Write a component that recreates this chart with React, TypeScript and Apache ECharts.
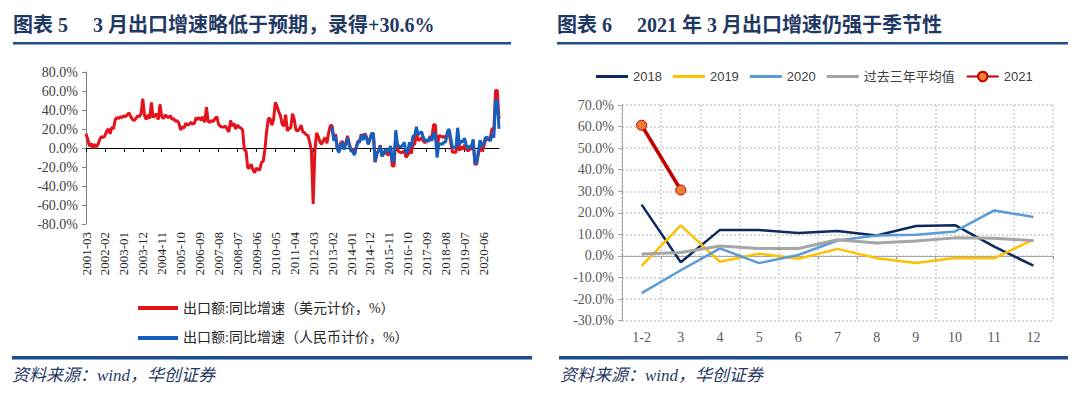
import React, { useEffect, useRef } from "react";
import * as echarts from "echarts";

// ---------- Left chart data (monthly, 2001-03 .. 2021-03) ----------
const usd2001 = [15, 9, 2, 5, 0, 4, 1, 4, 9, 12];
const usd2002 = [11, 13, 18, 20, 15, 22, 20, 30, 32, 31, 33, 32];
const usd2003 = [34, 33, 35, 37, 33, 30, 29, 31, 34, 33, 36, 52];
const usd2004 = [34, 30, 35, 31, 48, 32, 34, 36, 30, 46, 33, 31];
const usd2005 = [35, 33, 32, 34, 30, 31, 28, 29, 26, 19, 22, 21];
const usd2006 = [26, 24, 25, 27, 25, 26, 32, 30, 32, 29, 33, 27];
const usd2007 = [43, 28, 27, 29, 28, 31, 33, 25, 23, 22, 22, 23];
const usd2008 = [20, 17, 29, 23, 26, 20, 24, 22, 21, 19, -2, -3];
const usd2009 = [-21, -21, -17, -23, -26, -21, -23, -23, -15, -14, -1, 18];
const usd2010 = [31, 31, 24, 30, 48, 44, 38, 34, 25, 23, 35, 18];
const usd2011 = [21, 21, 36, 30, 19, 18, 20, 24, 17, 16, 14, 13];
const usd2012 = [6, -3, -59, -3, 16, 12, 6, 4, 8, 11, 5, 16];
const usd2013 = [23.6, 23.6, 10.0, 14.7, 1.0, -3.1, 5.1, 7.2, -0.3, 5.6, 12.7, 4.3];
const usd2014 = [-1.6, -1.6, -6.6, 0.9, 7.0, 7.2, 14.5, 9.4, 15.3, 11.6, 4.7, 9.7];
const usd2015 = [15.0, 15.0, -15.0, -6.4, -2.5, 2.8, -8.3, -5.5, -3.7, -6.9, -6.8, -1.4];
const usd2016 = [-19, -19, 11.5, -1.8, -4.1, -4.8, -4.4, -2.8, -10.0, -7.3, 0.1, -6.1];
const usd2017 = [4.0, 4.0, 16.4, 8.0, 8.7, 11.3, 7.2, 5.5, 8.1, 6.9, 12.3, 10.9];
const usd2018 = [24.4, 24.4, -2.7, 12.9, 12.6, 11.3, 12.2, 9.8, 14.5, 15.6, 5.4, -4.4];
const usd2019 = [-4.6, -4.6, 14.2, -2.7, 1.1, -1.3, 3.3, -1.0, -3.2, -0.9, -1.1, 7.6];
const usd2020 = [-17.2, -17.2, -6.6, 3.5, -3.3, 0.5, 7.2, 9.5, 9.9, 11.4, 21.1, 18.1];
const usd2021 = [60.6, 60.6, 30.6];

const rmb2013 = [21.0, 21.0, 7.6, 12.7, -1.1, -4.9, 3.1, 5.7, -1.6, 3.8, 10.8, 2.6];
const rmb2014 = [-3.3, -3.3, -7.5, 0.0, 6.0, 6.2, 13.5, 8.4, 14.3, 10.6, 3.8, 8.8];
const rmb2015 = [15.3, 15.3, -14.6, -6.2, -2.8, 2.1, -8.9, -6.1, -1.1, -3.6, -3.7, 2.3];
const rmb2016 = [-14, -14, 18.7, 4.1, 1.2, 1.3, 2.9, 5.9, -5.6, -3.2, 5.9, 0.6];
const rmb2017 = [12.6, 12.6, 22.3, 14.3, 15.5, 17.3, 11.2, 6.9, 9.0, 7.1, 11.5, 7.4];
const rmb2018 = [15.3, 15.3, -10.0, 4.3, 4.4, 3.8, 6.0, 6.3, 17.0, 20.1, 10.1, 0.2];
const rmb2019 = [0.4, 0.4, 21.3, 3.1, 7.7, 6.1, 10.3, 2.6, -0.7, 1.9, 1.3, 9.0];
const rmb2020 = [-15.9, -15.9, -3.5, 8.2, 1.4, 4.3, 10.4, 11.6, 8.7, 7.6, 14.9, 10.9];
const rmb2021 = [50.1, 50.1, 20.2];

const usdSeries: number[] = [
  ...usd2001, ...usd2002, ...usd2003, ...usd2004, ...usd2005, ...usd2006, ...usd2007,
  ...usd2008, ...usd2009, ...usd2010, ...usd2011, ...usd2012, ...usd2013, ...usd2014,
  ...usd2015, ...usd2016, ...usd2017, ...usd2018, ...usd2019, ...usd2020, ...usd2021,
];
const rmbStartIndex = usd2001.length + 11 * 12; // 2013-01
const rmbSeries: (number | null)[] = [
  ...new Array(rmbStartIndex).fill(null),
  ...rmb2013, ...rmb2014, ...rmb2015, ...rmb2016, ...rmb2017, ...rmb2018,
  ...rmb2019, ...rmb2020, ...rmb2021,
];

const monthLabels: string[] = [];
for (let y = 2001; y <= 2021; y++) {
  for (let m = 1; m <= 12; m++) {
    if ((y === 2001 && m < 3) || (y === 2021 && m > 3)) continue;
    monthLabels.push(`${y}-${m < 10 ? "0" + m : m}`);
  }
}

const leftNameUsd = "出口额:同比增速（美元计价，%）";
const leftNameRmb = "出口额:同比增速（人民币计价，%）";

// ---------- Right chart data ----------
const rightCategories = ["1-2", "3", "4", "5", "6", "7", "8", "9", "10", "11", "12"];
const y2018 = [23.8, -2.9, 12.1, 12.0, 10.7, 11.6, 9.5, 13.9, 14.3, 4.3, -4.5];
const y2019 = [-4.6, 14.2, -2.7, 1.1, -1.3, 3.3, -1.0, -3.2, -0.9, -1.1, 7.6];
const y2020 = [-17.2, -6.6, 3.5, -3.3, 0.5, 7.2, 9.5, 9.9, 11.4, 21.1, 18.1];
const avg3y = [0.9, 1.6, 4.6, 3.5, 3.5, 7.5, 6.0, 6.9, 8.4, 8.2, 7.1];
const y2021 = [60.6, 30.6];

const titleLeft = "图表 5\u3000 3 月出口增速略低于预期，录得+30.6%";
const titleRight = "图表 6\u3000 2021 年 3 月出口增速仍强于季节性";
const sourceText = "资料来源：wind，华创证券";

const SERIF = "'Liberation Serif', 'Times New Roman', 'Noto Sans CJK SC', serif";
const SANS = "'Liberation Sans', Arial, 'Noto Sans CJK SC', sans-serif";
const NAVY = "#1F3864";
const RULE = "#1F4E89";

const lineIconLeft = "path://M0 0H40V4H0Z";
const lineIconRight = "path://M0 0H32V3H0Z";

export default function App() {
  const ref = useRef<HTMLDivElement>(null);
  useEffect(() => {
    document.body.style.margin = "0";
    const chart = echarts.init(ref.current!, undefined, { renderer: "svg" });
    const fmt = (v: number) => v.toFixed(1) + "%";
    chart.setOption({
      animation: false,
      backgroundColor: "#ffffff",
      grid: [
        { left: 86, top: 72, width: 413, height: 152 },
        { left: 622, top: 105, width: 431, height: 215.7 },
      ],
      legend: [
        {
          orient: "vertical",
          left: 133,
          top: 296,
          itemWidth: 40,
          itemHeight: 14,
          itemGap: 16,
          textStyle: { fontFamily: SERIF, fontSize: 14, color: "#262626" },
          data: [
            { name: leftNameUsd, icon: lineIconLeft },
            { name: leftNameRmb, icon: lineIconLeft },
          ],
        },
        {
          left: 591,
          top: 65,
          itemWidth: 32,
          itemHeight: 12,
          itemGap: 11,
          textStyle: { fontFamily: SANS, fontSize: 13, color: "#404040" },
          data: [
            { name: "2018", icon: lineIconRight },
            { name: "2019", icon: lineIconRight },
            { name: "2020", icon: lineIconRight },
            { name: "过去三年平均值", icon: lineIconRight },
            { name: "2021" },
          ],
        },
      ],
      xAxis: [
        {
          gridIndex: 0,
          type: "category",
          data: monthLabels,
          boundaryGap: false,
          position: "bottom",
          axisLine: { show: false, onZero: false },
          axisTick: { show: false },
          axisLabel: {
            interval: 10,
            rotate: 90,
            margin: 8,
            fontFamily: SERIF,
            fontSize: 13,
            color: "#262626",
          },
          splitLine: { show: false },
        },
        {
          gridIndex: 0,
          type: "category",
          data: monthLabels,
          boundaryGap: false,
          position: "top",
          axisLine: { show: true, onZero: true, lineStyle: { color: "#000000", width: 1 } },
          axisTick: { show: true, inside: true, interval: 10, length: 4, lineStyle: { color: "#000000" } },
          axisLabel: { show: false },
          splitLine: { show: false },
        },
        {
          gridIndex: 1,
          type: "category",
          data: rightCategories,
          boundaryGap: true,
          position: "bottom",
          axisLine: { show: false, onZero: false },
          axisTick: { show: false },
          axisLabel: { margin: 10, fontFamily: SERIF, fontSize: 14, color: "#595959" },
          splitLine: { show: true, lineStyle: { color: "#D9D9D9", type: "dotted", width: 2 } },
        },
        {
          gridIndex: 1,
          type: "category",
          data: rightCategories,
          boundaryGap: true,
          position: "top",
          axisLine: { show: true, onZero: true, lineStyle: { color: "#A6A6A6", width: 1 } },
          axisTick: { show: true, inside: true, length: 4, lineStyle: { color: "#A6A6A6" } },
          axisLabel: { show: false },
          splitLine: { show: false },
        },
      ],
      yAxis: [
        {
          gridIndex: 0,
          type: "value",
          min: -80,
          max: 80,
          interval: 20,
          axisLine: { show: true, lineStyle: { color: "#7F7F7F" } },
          axisTick: { show: true, length: 4, lineStyle: { color: "#7F7F7F" } },
          axisLabel: { formatter: fmt, fontFamily: SERIF, fontSize: 14, color: "#404040", margin: 8 },
          splitLine: { show: false },
        },
        {
          gridIndex: 1,
          type: "value",
          min: -30,
          max: 70,
          interval: 10,
          axisLine: { show: true, lineStyle: { color: "#A6A6A6" } },
          axisTick: { show: true, length: 4, lineStyle: { color: "#A6A6A6" } },
          axisLabel: { formatter: fmt, fontFamily: SERIF, fontSize: 14, color: "#595959", margin: 8 },
          splitLine: { show: true, lineStyle: { color: "#D9D9D9", type: "dotted", width: 2 } },
        },
      ],
      series: [
        {
          name: leftNameUsd,
          type: "line",
          xAxisIndex: 0,
          yAxisIndex: 0,
          data: usdSeries,
          symbol: "none",
          lineStyle: { color: "#E3121B", width: 3 },
          itemStyle: { color: "#E3121B" },
        },
        {
          name: leftNameRmb,
          type: "line",
          xAxisIndex: 0,
          yAxisIndex: 0,
          data: rmbSeries,
          symbol: "none",
          lineStyle: { color: "#1560BD", width: 3 },
          itemStyle: { color: "#1560BD" },
        },
        {
          name: "2018",
          type: "line",
          xAxisIndex: 2,
          yAxisIndex: 1,
          data: y2018,
          symbol: "none",
          lineStyle: { color: "#0D2A5E", width: 2.5 },
          itemStyle: { color: "#0D2A5E" },
        },
        {
          name: "2019",
          type: "line",
          xAxisIndex: 2,
          yAxisIndex: 1,
          data: y2019,
          symbol: "none",
          lineStyle: { color: "#FFC000", width: 2.5 },
          itemStyle: { color: "#FFC000" },
        },
        {
          name: "2020",
          type: "line",
          xAxisIndex: 2,
          yAxisIndex: 1,
          data: y2020,
          symbol: "none",
          lineStyle: { color: "#5B9BD5", width: 2.5 },
          itemStyle: { color: "#5B9BD5" },
        },
        {
          name: "过去三年平均值",
          type: "line",
          xAxisIndex: 2,
          yAxisIndex: 1,
          data: avg3y,
          symbol: "none",
          lineStyle: { color: "#A5A5A5", width: 3 },
          itemStyle: { color: "#A5A5A5" },
        },
        {
          name: "2021",
          type: "line",
          xAxisIndex: 2,
          yAxisIndex: 1,
          data: y2021,
          symbol: "circle",
          symbolSize: 10,
          lineStyle: { color: "#C00000", width: 3.5 },
          itemStyle: { color: "#ED7D31", borderColor: "#C00000", borderWidth: 1 },
          z: 5,
        },
      ],
      graphic: [
        {
          type: "text",
          left: 13,
          top: 15,
          style: { text: titleLeft, fontFamily: SERIF, fontSize: 20, fontWeight: "bold", fill: NAVY },
        },
        {
          type: "text",
          left: 557,
          top: 15,
          style: { text: titleRight, fontFamily: SERIF, fontSize: 20, fontWeight: "bold", fill: NAVY },
        },
        { type: "rect", shape: { x: 13, y: 42, width: 498, height: 2.5 }, style: { fill: RULE } },
        { type: "rect", shape: { x: 557, y: 42, width: 511, height: 2.5 }, style: { fill: RULE } },
        { type: "rect", shape: { x: 12, y: 356, width: 520, height: 3.5 }, style: { fill: RULE } },
        { type: "rect", shape: { x: 559, y: 356, width: 509, height: 3.5 }, style: { fill: RULE } },
        {
          type: "text",
          left: 12,
          top: 367,
          style: { text: sourceText, fontFamily: SERIF, fontSize: 17, fontStyle: "italic", fill: NAVY },
        },
        {
          type: "text",
          left: 560,
          top: 367,
          style: { text: sourceText, fontFamily: SERIF, fontSize: 17, fontStyle: "italic", fill: NAVY },
        },
      ],
    });
    return () => chart.dispose();
  }, []);
  return <div ref={ref} style={{ width: 1080, height: 396 }} />;
}
